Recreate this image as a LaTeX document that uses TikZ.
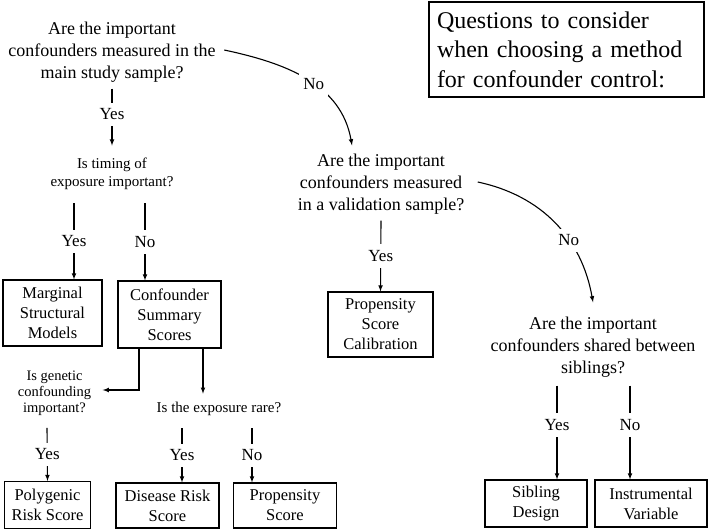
\documentclass[tikz,border=0pt]{standalone}
\usepackage{fontspec}
\setmainfont{Liberation Serif}
\usetikzlibrary{positioning}

\begin{document}
\begin{tikzpicture}[x=1pt,y=-1pt,line width=1.1pt]
      \tikzstyle{ques}=[align=center,inner sep=2pt,font=\fontsize{18}{22}\selectfont]
      \tikzstyle{subq}=[align=center,inner sep=2pt,font=\fontsize{15}{18}\selectfont]
      \tikzstyle{method}=[draw,align=center,inner sep=2pt,font=\fontsize{16.5}{20}\selectfont]
      \tikzstyle{ans}=[fill=white,inner xsep=2pt,inner ysep=6pt,font=\fontsize{17}{20}\selectfont]
      \useasboundingbox (0,0) rectangle (709,531);

      % questions
      \node[ques] (main) at (112,52) {Are the important\\confounders measured in the\\main study sample?};
      \node[subq] (timing) at (112,174) {Is timing of\\exposure important?};
      \node[subq,font=\fontsize{14.5}{16}\selectfont] (genetic) at (54.5,393) {Is genetic\\confounding\\important?};
      \node[subq] (rare) at (219,409) {Is the exposure rare?};
      \node[ques] (valid) at (381,184) {Are the important\\confounders measured\\in a validation sample?};
      \node[ques] (sibs) at (593,347) {Are the important\\confounders shared between\\siblings?};
      \node[draw,align=left,text width=259pt,inner xsep=8pt,minimum height=95pt,
            font=\fontsize{24}{29.5}\selectfont] (title) at (566.5,49.5)
            {Questions to consider\\when choosing a method\\for confounder control:};

      % methods
      \node[method,minimum width=99pt,minimum height=66pt] (msm) at (52.5,313) {Marginal\\Structural\\Models};
      \node[method,minimum width=103pt,minimum height=67pt] (css) at (169.5,314.5) {Confounder\\Summary\\Scores};
      \node[method,minimum width=86pt,minimum height=47pt] (prs) at (47.5,505) {Polygenic\\Risk Score};
      \node[method,minimum width=103pt,minimum height=45pt] (drs) at (167.5,505.5) {Disease Risk\\Score};
      \node[method,minimum width=103pt,minimum height=45pt] (ps) at (285,505.5) {Propensity\\Score};
      \node[method,minimum width=105pt,minimum height=65pt] (psc) at (380.5,324.5) {Propensity\\Score\\Calibration};
      \node[method,minimum width=102pt,minimum height=47pt] (sd) at (536,503.5) {Sibling\\Design};
      \node[method,minimum width=112pt,minimum height=47pt] (iv) at (651,503.5) {Instrumental\\Variable};

      % answers
      \draw[-latex] ([yshift=-4pt]main.south) -- node[ans,pos=0.45]{Yes} ([yshift=10pt]timing.north);
      \draw[-latex] ([xshift=6pt,yshift=2pt]main.east) to[out=-12,in=100] node[ans,inner xsep=4pt,pos=0.55]{No} ([xshift=-29pt,yshift=6pt]valid.north);
      \draw[-latex] ([xshift=-38pt,yshift=-11pt]timing.south) -- node[ans]{Yes} ([xshift=21.5pt]msm.north);
      \draw[-latex] ([xshift=33pt,yshift=-11pt]timing.south) -- node[ans]{No} ([xshift=-24.5pt]css.north);
      \draw[-latex] ([xshift=-30.5pt]css.south) |- ([xshift=9pt,yshift=3pt]genetic.east);
      \draw[-latex] ([xshift=33.5pt]css.south) -- ([xshift=-16pt,yshift=6pt]rare.north);
      \draw[-latex] ([xshift=-7.5pt,yshift=-10pt]genetic.south) -- node[ans]{Yes} (prs.north);
      \draw[-latex] ([xshift=-37pt,yshift=-10pt]rare.south) -- node[ans]{Yes} ([xshift=14.5pt]drs.north);
      \draw[-latex] ([xshift=33pt,yshift=-10pt]rare.south) -- node[ans]{No} ([xshift=-33pt]ps.north);
      \draw[-latex] ([yshift=-4pt]valid.south) -- node[ans]{Yes} (psc.north);
      \draw[-latex] ([xshift=11pt,yshift=2pt]valid.east) to[out=-12,in=100] node[ans,inner xsep=4pt,pos=0.63]{No} ([yshift=12pt]sibs.north);
      \draw[-latex] ([xshift=-36pt,yshift=-6pt]sibs.south) -- node[ans,pos=0.42]{Yes} ([xshift=21pt]sd.north);
      \draw[-latex] ([xshift=37pt,yshift=-6pt]sibs.south) -- node[ans,pos=0.42]{No} ([xshift=-21pt]iv.north);
    \end{tikzpicture}
\end{document}
